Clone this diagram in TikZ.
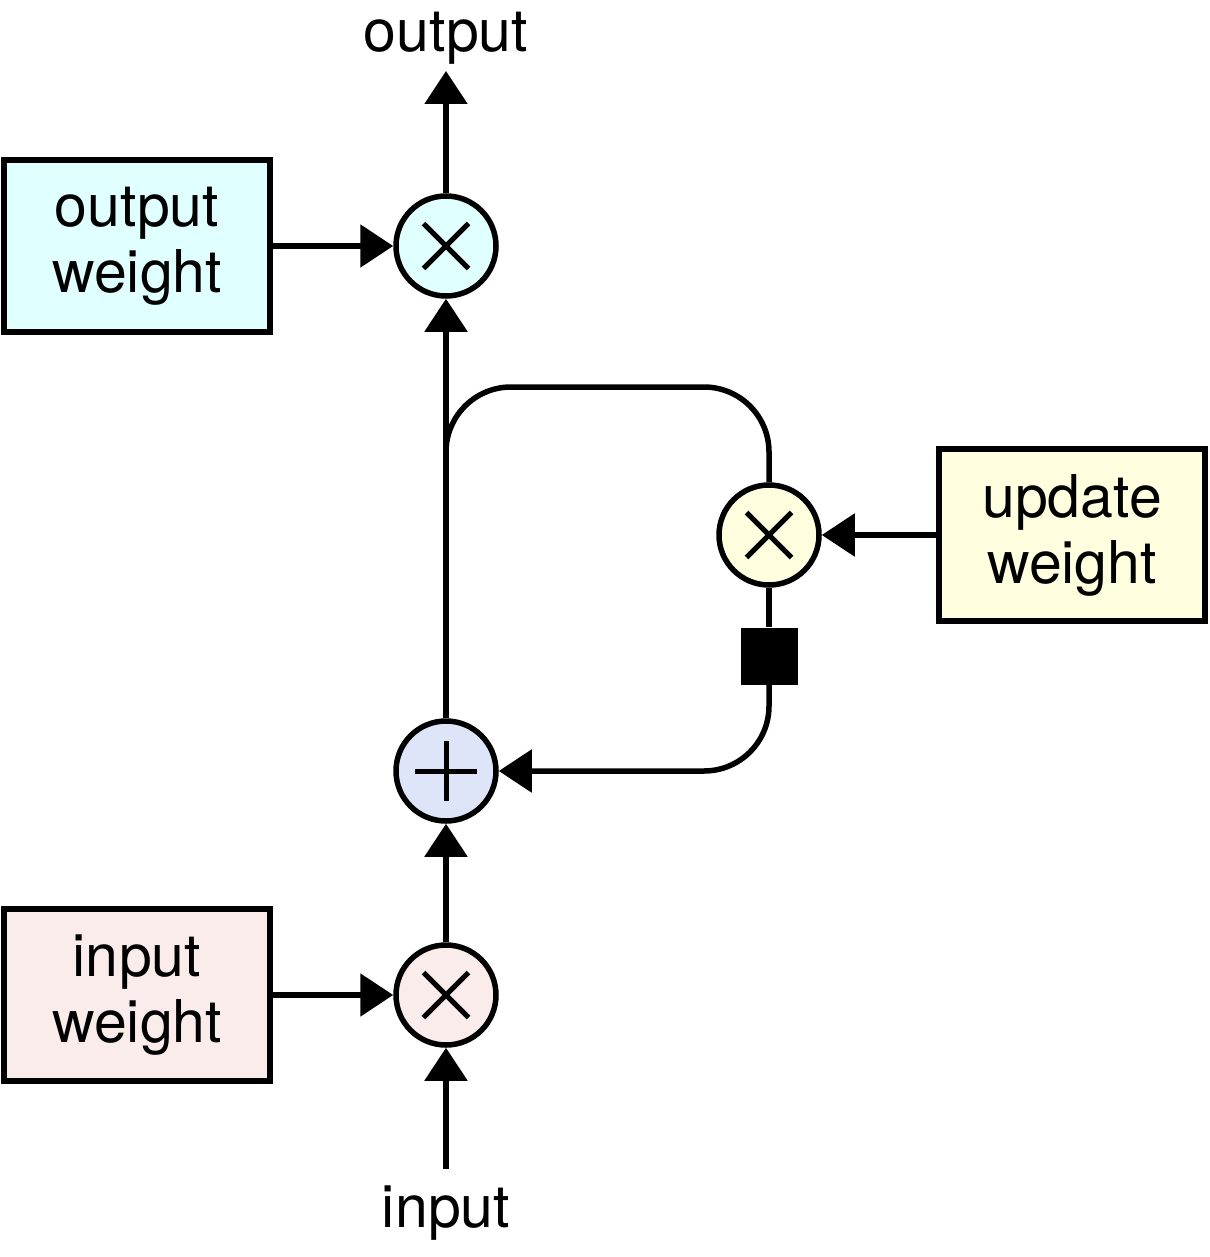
\documentclass[tikz,border=0pt]{standalone}
\usepackage{fontspec}
\setmainfont{TeX Gyre Heros}
\usetikzlibrary{arrows.meta}
\definecolor{cyanfill}{HTML}{E0FFFF}
\definecolor{yellowfill}{HTML}{FFFFE0}
\definecolor{bluefill}{HTML}{DFE5F8}
\definecolor{pinkfill}{HTML}{FAECEB}
\tikzset{
  lw/.style={line width=5.5pt},
  txt/.style={font=\fontsize{59}{66}\selectfont, align=center, inner sep=0pt},
  wbox/.style={lw, draw=black, txt, minimum width=266pt, minimum height=172pt},
  opcirc/.style={lw, draw=black, circle, minimum size=100pt, inner sep=0pt},
  mulop/.style={opcirc, path picture={
      \draw[line width=5pt] ([xshift=-22.5pt,yshift=-22.5pt]path picture bounding box.center) -- ([xshift=22.5pt,yshift=22.5pt]path picture bounding box.center);
      \draw[line width=5pt] ([xshift=-22.5pt,yshift=22.5pt]path picture bounding box.center) -- ([xshift=22.5pt,yshift=-22.5pt]path picture bounding box.center);}},
  addop/.style={opcirc, path picture={
      \draw[line width=5pt] ([xshift=-31pt]path picture bounding box.center) -- ([xshift=31pt]path picture bounding box.center);
      \draw[line width=5pt] ([yshift=-30pt]path picture bounding box.center) -- ([yshift=30pt]path picture bounding box.center);}},
  conn/.style={lw},
  arr/.style={lw, -{Triangle[length=33pt,width=42pt]}},
}
\begin{document}
\begin{tikzpicture}[x=1pt,y=-1pt]
\useasboundingbox (0,0) rectangle (1209,1257);
% boxes
\node[wbox, fill=cyanfill] (ow) at (137,246) {output\\weight};
\node[wbox, fill=yellowfill] (uw) at (1072,535) {update\\weight};
\node[wbox, fill=pinkfill] (iw) at (137,995) {input\\weight};
% operators
\node[mulop, fill=cyanfill] (ox) at (446,246) {};
\node[mulop, fill=yellowfill] (ux) at (769,535) {};
\node[addop, fill=bluefill] (pl) at (446,771) {};
\node[mulop, fill=pinkfill] (ix) at (446,995) {};
% delay square
\node[fill=black, minimum size=57pt, inner sep=0pt] (sq) at (769,656) {};
% labels
\node[txt, anchor=base] (out) at (446,52) {output};
\node[txt, anchor=base] (in) at (446,1227) {input};
\coordinate (outend) at (446,71);
\coordinate (inend) at (446,1169);
\coordinate (lj) at (446,470);
\coordinate (tl) at (446,387);
\coordinate (tr) at (769,387);
% connectors
\draw[arr] (inend) -- (ix.south);
\draw[arr] (ix.north) -- (pl.south);
\draw[arr] (pl.north) -- (ox.south);
\draw[arr] (ox.north) -- (outend);
\draw[arr] (ow.east) -- (ox.west);
\draw[arr] (iw.east) -- (ix.west);
\draw[arr] (uw.west) -- (ux.east);
\draw[conn, rounded corners=65pt] (lj) -- (tl) -- (tr) -- (ux.north);
\draw[conn] (ux.south) -- (sq.north);
\draw[arr, rounded corners=65pt] (sq.south) |- (pl.east);
\end{tikzpicture}
\end{document}
